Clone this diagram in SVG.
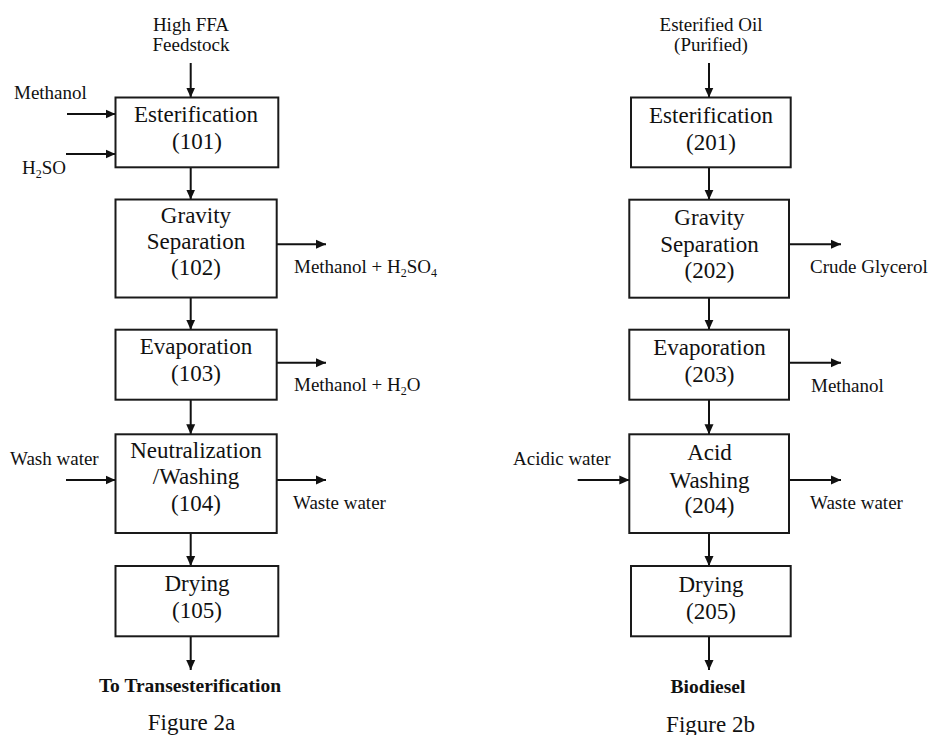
<svg xmlns="http://www.w3.org/2000/svg" width="930" height="735" viewBox="0 0 930 735">
<defs>
<style>
text{font-family:"Liberation Serif","Times New Roman",serif;fill:#111}
.box rect{fill:#fff;stroke:#1a1a1a;stroke-width:2}
.bt{font-size:23px;text-anchor:middle}
.lb{font-size:19px}
.c{text-anchor:middle}
.bold{font-weight:bold;font-size:19.5px;text-anchor:middle}
.cap{font-size:23px;text-anchor:middle}
.sub{font-size:12px}
#connectors line{stroke:#111;stroke-width:2;marker-end:url(#ah)}
</style>
<marker id="ah" markerUnits="userSpaceOnUse" markerWidth="10" markerHeight="10" refX="10" refY="5" orient="auto" viewBox="0 0 10 10">
<path d="M0,0.5 L10,5 L0,9.5 z" fill="#111"/>
</marker>
</defs>
<rect width="930" height="735" fill="#fff"/>

<g id="connectors">
<line x1="190.7" y1="63" x2="190.7" y2="97.5"/>
<line x1="67" y1="114" x2="115.5" y2="114"/>
<line x1="66" y1="154" x2="115.5" y2="154"/>
<line x1="190.7" y1="167.5" x2="190.7" y2="199.5"/>
<line x1="277" y1="244.3" x2="326" y2="244.3"/>
<line x1="190.7" y1="297.5" x2="190.7" y2="329.7"/>
<line x1="277" y1="362.7" x2="326" y2="362.7"/>
<line x1="190.7" y1="399.7" x2="190.7" y2="434.3"/>
<line x1="66" y1="480" x2="115.5" y2="480"/>
<line x1="277" y1="480" x2="326" y2="480"/>
<line x1="190.7" y1="533" x2="190.7" y2="566"/>
<line x1="190.7" y1="636.3" x2="190.7" y2="670"/>

<line x1="709" y1="63" x2="709" y2="97.5"/>
<line x1="709" y1="167.5" x2="709" y2="199.7"/>
<line x1="789" y1="244.3" x2="841" y2="244.3"/>
<line x1="709" y1="297.7" x2="709" y2="329.7"/>
<line x1="789" y1="362.7" x2="841" y2="362.7"/>
<line x1="709" y1="399.7" x2="709" y2="434.3"/>
<line x1="577.7" y1="480" x2="629.3" y2="480"/>
<line x1="789" y1="480" x2="841" y2="480"/>
<line x1="709" y1="533" x2="709" y2="566"/>
<line x1="709" y1="636.3" x2="709" y2="670"/>
</g>

<g id="n101" class="box">
<rect x="115.5" y="97.5" width="162.8" height="69.8"/>
<text class="bt" x="196" y="122">Esterification</text>
<text class="bt" x="197" y="149">(101)</text>
</g>
<g id="n102" class="box">
<rect x="115.5" y="199.5" width="161.2" height="98"/>
<text class="bt" x="196" y="223">Gravity</text>
<text class="bt" x="196" y="249">Separation</text>
<text class="bt" x="196" y="275">(102)</text>
</g>
<g id="n103" class="box">
<rect x="115.5" y="329.7" width="161.2" height="70"/>
<text class="bt" x="196" y="354">Evaporation</text>
<text class="bt" x="196" y="381">(103)</text>
</g>
<g id="n104" class="box">
<rect x="115.5" y="434.3" width="161.2" height="98.7"/>
<text class="bt" x="196" y="458.3">Neutralization</text>
<text class="bt" x="196" y="484">/Washing</text>
<text class="bt" x="196" y="510.7">(104)</text>
</g>
<g id="n105" class="box">
<rect x="115.5" y="566" width="162.8" height="70.3"/>
<text class="bt" x="197" y="591">Drying</text>
<text class="bt" x="197" y="618">(105)</text>
</g>

<g id="n201" class="box">
<rect x="631" y="97.5" width="159.7" height="69.8"/>
<text class="bt" x="711" y="123">Esterification</text>
<text class="bt" x="711" y="150">(201)</text>
</g>
<g id="n202" class="box">
<rect x="629.3" y="199.7" width="159.7" height="98"/>
<text class="bt" x="709.5" y="225">Gravity</text>
<text class="bt" x="709.5" y="251.7">Separation</text>
<text class="bt" x="709.5" y="278">(202)</text>
</g>
<g id="n203" class="box">
<rect x="629.3" y="329.7" width="159.7" height="70"/>
<text class="bt" x="709.5" y="355">Evaporation</text>
<text class="bt" x="709.5" y="381.7">(203)</text>
</g>
<g id="n204" class="box">
<rect x="629.3" y="434.3" width="159.7" height="98.7"/>
<text class="bt" x="709.5" y="460">Acid</text>
<text class="bt" x="709.5" y="487.7">Washing</text>
<text class="bt" x="709.5" y="513">(204)</text>
</g>
<g id="n205" class="box">
<rect x="631" y="566" width="159.7" height="70.3"/>
<text class="bt" x="711" y="592.3">Drying</text>
<text class="bt" x="711" y="619">(205)</text>
</g>

<g id="labels-a">
<text class="lb c" x="191" y="31">High FFA</text>
<text class="lb c" x="191" y="51">Feedstock</text>
<text class="lb" x="14" y="99">Methanol</text>
<text class="lb" x="22" y="174">H<tspan class="sub" dy="4">2</tspan><tspan dy="-4">SO</tspan></text>
<text class="lb" x="294" y="273">Methanol + H<tspan class="sub" dy="4">2</tspan><tspan dy="-4">SO</tspan><tspan class="sub" dy="4">4</tspan></text>
<text class="lb" x="294" y="390.7">Methanol + H<tspan class="sub" dy="4">2</tspan><tspan dy="-4">O</tspan></text>
<text class="lb" x="10" y="465">Wash water</text>
<text class="lb" x="293" y="509">Waste water</text>
<text class="bold" x="190" y="692">To Transesterification</text>
<text class="cap" x="191.5" y="730">Figure 2a</text>
</g>

<g id="labels-b">
<text class="lb c" x="711" y="31">Esterified Oil</text>
<text class="lb c" x="711" y="51">(Purified)</text>
<text class="lb" x="810" y="272.7">Crude Glycerol</text>
<text class="lb" x="811" y="392">Methanol</text>
<text class="lb" x="513" y="465">Acidic water</text>
<text class="lb" x="810" y="509">Waste water</text>
<text class="bold" x="708" y="693">Biodiesel</text>
<text class="cap" x="710.5" y="731.7">Figure 2b</text>
</g>
</svg>
